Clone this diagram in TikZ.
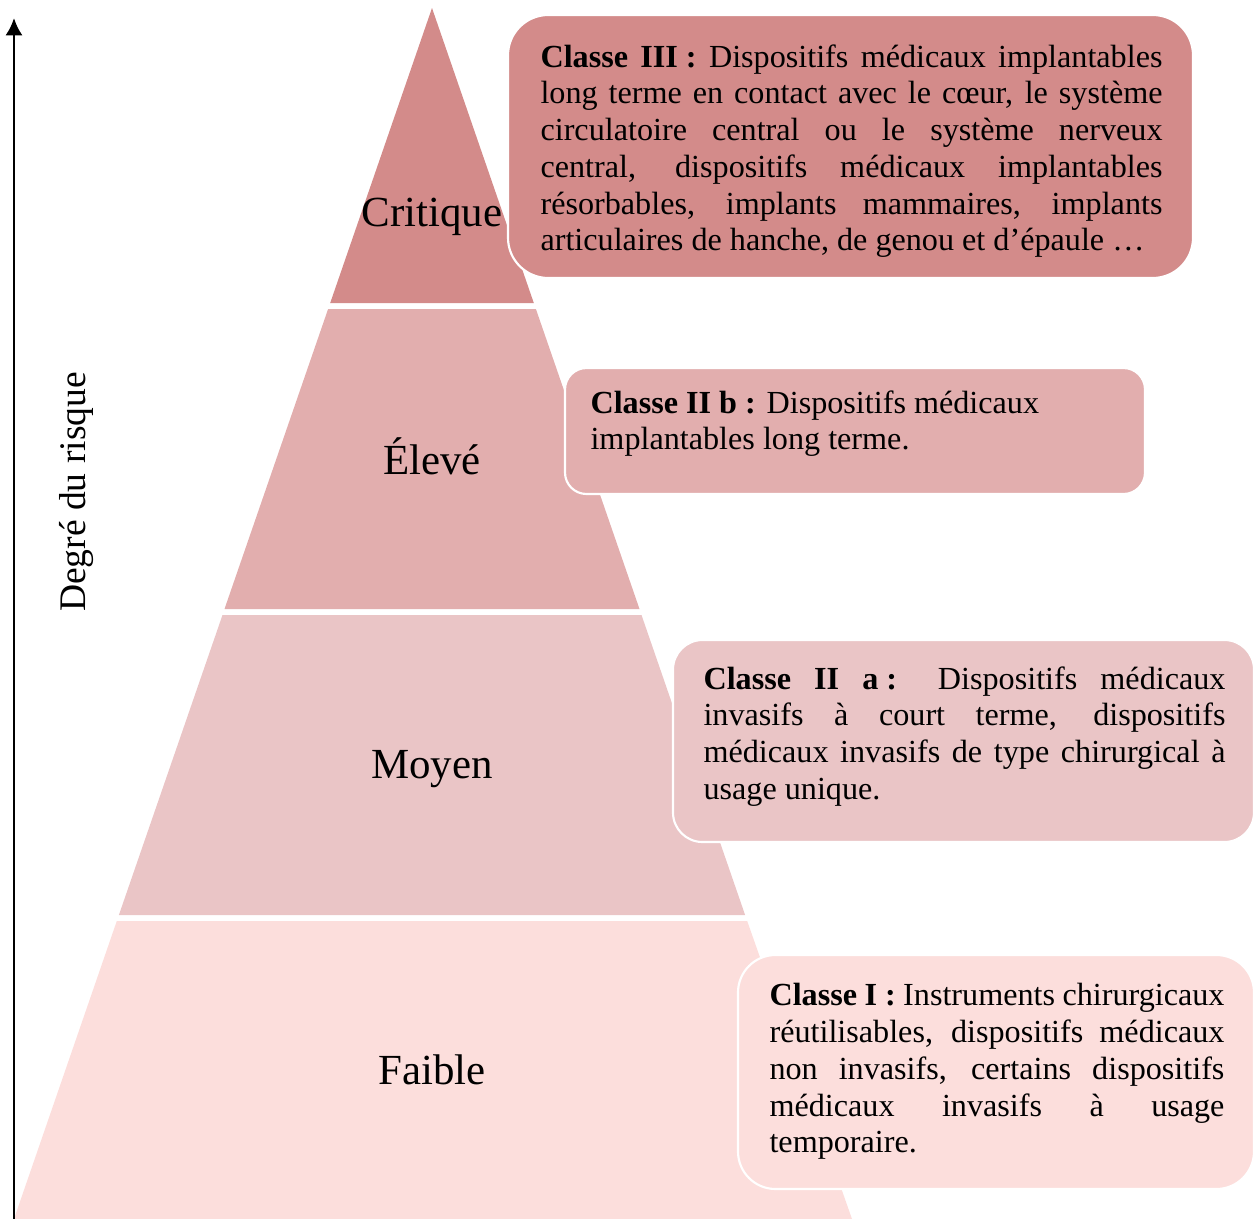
\documentclass[tikz,border=0pt]{standalone}
\usepackage{fontspec}
\setmainfont{Liberation Serif}
\usetikzlibrary{arrows.meta}
\definecolor{critcol}{RGB}{211,139,138}
\definecolor{elevcol}{RGB}{226,174,174}
\definecolor{moycol}{RGB}{234,197,198}
\definecolor{faibcol}{RGB}{252,222,220}
\newcommand{\boxfont}{\fontsize{12}{13.7}\selectfont\hyphenpenalty=10000\exhyphenpenalty=10000}
\newcommand{\cls}[1]{\textbf{#1\kern.25em:}}
\begin{document}
\begin{tikzpicture}[x=0.373pt,y=-0.373pt,
    level/.style={anchor=base,inner sep=0pt,font=\fontsize{16}{19}\selectfont},
    classbox/.style={draw=white,line width=0.8pt},
    classtext/.style={anchor=north west,inner sep=0pt,font=\boxfont,align=justify}]
    \useasboundingbox (0,0) rectangle (1255,1219);
    % pyramid bands
    \fill[critcol] (432,8) -- (533.8,303) -- (330.2,303) -- cycle;
    \fill[elevcol] (328.1,309) -- (535.9,309) -- (639.5,609) -- (224.5,609) -- cycle;
    \fill[moycol] (222.5,615) -- (641.5,615) -- (745.1,915) -- (118.9,915) -- cycle;
    \fill[faibcol] (116.8,921) -- (747.2,921) -- (852,1219) -- (14,1219) -- cycle;
    \node[level] (critique) at (432,226) {Critique};
    \node[level] (eleve) at (432,474) {Élevé};
    \node[level] (moyen) at (432,778) {Moyen};
    \node[level] (faible) at (432,1084) {Faible};
    % risk axis
    \coordinate (axebas) at (14,1219);
    \coordinate (axehaut) at (14,18);
    \draw[-{Latex[length=6.5pt,width=6.5pt]},line width=1.1pt] (axebas) -- (axehaut);
    \node[rotate=90,font=\fontsize{14}{17}\selectfont] (degre) at (77,492) {Degré du risque};
    % class boxes
    \draw[classbox,fill=critcol,rounded corners=15pt] (508,15) rectangle (1193,278);
    \node[classtext,text width=232pt] (classeIII) at (540,44)
        {\cls{Classe III} Dispositifs médicaux implantables\linebreak
        long terme en contact avec le cœur, le système\linebreak
        circulatoire central ou le système nerveux\linebreak
        central, dispositifs médicaux implantables\linebreak
        résorbables, implants mammaires, implants\linebreak
        articulaires de hanche, de genou et d’épaule …};
    \draw[classbox,fill=elevcol,rounded corners=8pt] (565,368) rectangle (1145,494);
    \node[classtext,align=left] (classeIIb) at (590,390)
        {\cls{Classe II b} Dispositifs médicaux\\implantables long terme.};
    \draw[classbox,fill=moycol,rounded corners=11pt] (673,640) rectangle (1254,842);
    \node[classtext,text width=194.7pt] (classeIIa) at (703,666)
        {\cls{Classe II a} Dispositifs médicaux\linebreak
        invasifs à court terme, dispositifs\linebreak
        médicaux invasifs de type chirurgical à\linebreak
        usage unique.};
    \draw[classbox,fill=faibcol,rounded corners=14pt] (738,955) rectangle (1254,1189);
    \node[classtext,text width=169.7pt] (classeI) at (769,983)
        {\cls{Classe I} Instruments chirurgicaux\linebreak
        réutilisables, dispositifs médicaux\linebreak
        non invasifs, certains dispositifs\linebreak
        médicaux invasifs à usage\linebreak
        temporaire.};
\end{tikzpicture}
\end{document}
